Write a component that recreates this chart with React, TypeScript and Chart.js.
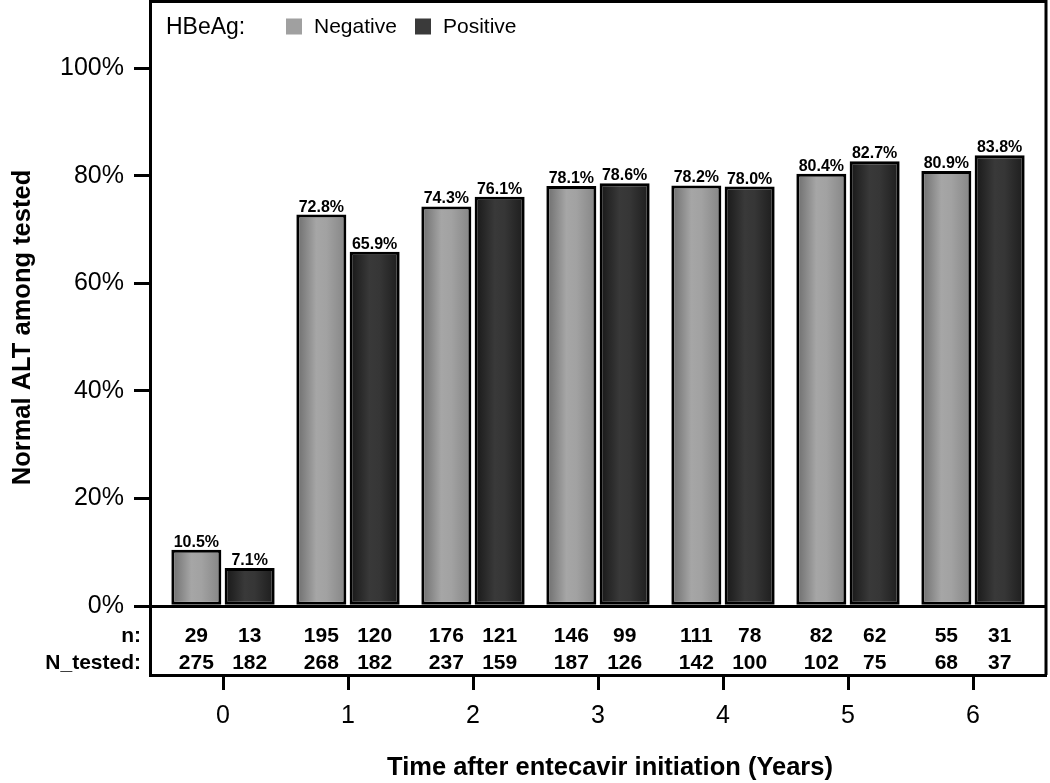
import React, { useEffect, useRef } from "react";
import { Chart, registerables } from "chart.js";

Chart.register(...registerables);

const YEARS = [0, 1, 2, 3, 4, 5, 6];
const SERIES_LABELS = ["Negative", "Positive"];
const NEG_PCT = [10.5, 72.8, 74.3, 78.1, 78.2, 80.4, 80.9];
const POS_PCT = [7.1, 65.9, 76.1, 78.6, 78.0, 82.7, 83.8];
const NEG_N = [29, 195, 176, 146, 111, 82, 55];
const POS_N = [13, 120, 121, 99, 78, 62, 31];
const NEG_TESTED = [275, 268, 237, 187, 142, 102, 68];
const POS_TESTED = [182, 182, 159, 126, 100, 75, 37];
const ROW_LABELS = ["n:", "N_tested:"];
const LEGEND_TITLE = "HBeAg:";
const Y_TICKS = [0, 20, 40, 60, 80, 100];
const X_TITLE = "Time after entecavir initiation (Years)";
const Y_TITLE = "Normal ALT among tested";

const FONT = '"Liberation Sans", Arial, Helvetica, sans-serif';
const CAT_PCT = 0.853;
const BAR_PCT = 0.938;
const NEG_STOPS = ["#6c6c6c", "#a6a6a6", "#a2a2a2", "#858585"];
const POS_STOPS = ["#171717", "#393939", "#363636", "#1c1c1c"];
const LEGEND_COLORS = ["#a0a0a0", "#3a3a3a"];

function barFill(stops: string[]) {
  return (c: any) => {
    const chart = c.chart;
    const xs = chart.scales && chart.scales.x;
    if (!xs || c.type !== "data") return stops[1];
    const unit = xs.getPixelForValue(1) - xs.getPixelForValue(0);
    if (!isFinite(unit) || unit <= 0) return stops[1];
    const slot = (unit * CAT_PCT) / 2;
    const xv = YEARS[c.dataIndex];
    const center = xs.getPixelForValue(xv) + (c.datasetIndex === 0 ? -slot / 2 : slot / 2);
    const w = slot * BAR_PCT;
    const g = chart.ctx.createLinearGradient(center - w / 2, 0, center + w / 2, 0);
    g.addColorStop(0, stops[0]);
    g.addColorStop(0.4, stops[1]);
    g.addColorStop(0.6, stops[2]);
    g.addColorStop(1, stops[3]);
    return g;
  };
}

function zeroPadding(s: any) {
  s.paddingTop = 0;
  s.paddingBottom = 0;
  s.paddingLeft = 0;
  s.paddingRight = 0;
}

const annotatePlugin = {
  id: "annotate",
  afterDatasetsDraw(chart: any) {
    const { ctx, chartArea } = chart;
    const ys = chart.scales.y;
    const base = ys.getPixelForValue(0);
    const pct = [NEG_PCT, POS_PCT];
    const ns = [NEG_N, POS_N];
    const tested = [NEG_TESTED, POS_TESTED];
    ctx.save();
    ctx.fillStyle = "#000";
    ctx.textAlign = "center";
    ctx.textBaseline = "alphabetic";
    for (let d = 0; d < 2; d++) {
      const meta = chart.getDatasetMeta(d);
      meta.data.forEach((el: any, j: number) => {
        ctx.font = `bold 16px ${FONT}`;
        ctx.fillText(pct[d][j].toFixed(1) + "%", el.x, el.y - 3);
        ctx.font = `bold 21px ${FONT}`;
        ctx.fillText(String(ns[d][j]), el.x, base + 36);
        ctx.fillText(String(tested[d][j]), el.x, base + 63);
      });
    }
    ctx.textAlign = "right";
    ctx.font = `bold 21px ${FONT}`;
    ctx.fillText(ROW_LABELS[0], chartArea.left - 9, base + 36);
    ctx.fillText(ROW_LABELS[1], chartArea.left - 9, base + 63);
    ctx.restore();
  },
  afterDraw(chart: any) {
    const { ctx, chartArea } = chart;
    ctx.save();
    // frame top & right
    ctx.strokeStyle = "#000";
    ctx.lineWidth = 3;
    ctx.beginPath();
    ctx.moveTo(chartArea.left, chartArea.top);
    ctx.lineTo(chartArea.right, chartArea.top);
    ctx.lineTo(chartArea.right, chartArea.bottom);
    ctx.stroke();
    // legend
    const y = chartArea.top + 25;
    ctx.textBaseline = "middle";
    ctx.textAlign = "left";
    ctx.fillStyle = "#000";
    ctx.font = `23px ${FONT}`;
    ctx.fillText(LEGEND_TITLE, chartArea.left + 16, y + 1);
    ctx.font = `21px ${FONT}`;
    chart.data.datasets.forEach((ds: any, i: number) => {
      const x = chartArea.left + 136 + i * 129;
      ctx.fillStyle = LEGEND_COLORS[i];
      ctx.fillRect(x, y - 8, 16, 16);
      ctx.fillStyle = "#000";
      ctx.fillText(ds.label, x + 28, y + 1);
    });
    // axis titles
    ctx.font = `bold 25.5px ${FONT}`;
    ctx.textAlign = "center";
    ctx.textBaseline = "middle";
    ctx.fillText(X_TITLE, chartArea.left + 460, 768);
    ctx.translate(23, chartArea.top + 326);
    ctx.rotate(-Math.PI / 2);
    ctx.fillText(Y_TITLE, 0, 0);
    ctx.restore();
  },
};

export default function App() {
  const ref = useRef<HTMLCanvasElement | null>(null);

  useEffect(() => {
    if (!ref.current) return;
    const chart = new Chart(ref.current, {
      type: "bar",
      data: {
        datasets: [
          {
            label: SERIES_LABELS[0],
            data: YEARS.map((x, j) => ({ x, y: NEG_PCT[j] })),
            backgroundColor: barFill(NEG_STOPS),
            borderColor: "#000",
            borderWidth: 3,
            borderSkipped: false,
            categoryPercentage: CAT_PCT,
            barPercentage: BAR_PCT,
          },
          {
            label: SERIES_LABELS[1],
            data: YEARS.map((x, j) => ({ x, y: POS_PCT[j] })),
            backgroundColor: barFill(POS_STOPS),
            borderColor: "#000",
            borderWidth: 3,
            borderSkipped: false,
            categoryPercentage: CAT_PCT,
            barPercentage: BAR_PCT,
          },
        ],
      },
      options: {
        animation: false,
        responsive: false,
        layout: { padding: { top: 1.5, right: 4, left: 0, bottom: 0 } },
        plugins: {
          legend: { display: false },
          tooltip: { enabled: false },
        },
        scales: {
          x: {
            type: "linear",
            offset: false,
            min: -0.584,
            max: 6.584,
            afterFit: (s: any) => {
              s.height = 108;
              zeroPadding(s);
            },
            afterBuildTicks: (s: any) => {
              s.ticks = YEARS.map((v) => ({ value: v }));
            },
            ticks: {
              stepSize: 1,
              includeBounds: false,
              color: "#000",
              font: { family: FONT, size: 25 },
              padding: 11,
              maxRotation: 0,
            },
            grid: {
              offset: false,
              drawOnChartArea: false,
              tickLength: 15,
              tickWidth: 3,
              tickColor: "#000",
            },
            border: { display: true, color: "#000", width: 3 },
            title: { display: false },
          },
          y: {
            type: "linear",
            min: -12.8,
            max: 112.4,
            afterFit: (s: any) => {
              s.width = 150;
              zeroPadding(s);
            },
            afterBuildTicks: (s: any) => {
              s.ticks = Y_TICKS.map((v) => ({ value: v }));
            },
            ticks: {
              stepSize: 20,
              includeBounds: false,
              color: "#000",
              font: { family: FONT, size: 25 },
              padding: 10,
              callback: (v: any) => v + "%",
            },
            grid: {
              drawOnChartArea: true,
              color: (c: any) => (c.tick && c.tick.value === 0 ? "#000" : "rgba(0,0,0,0)"),
              lineWidth: 3,
              tickLength: 16,
              tickWidth: 3,
              tickColor: "#000",
            },
            border: { display: true, color: "#000", width: 3 },
            title: { display: false },
          },
        },
      },
      plugins: [annotatePlugin],
    });
    return () => chart.destroy();
  }, []);

  return (
    <div style={{ position: "absolute", left: 0, top: 0, width: 1050, height: 783, background: "#fff" }}>
      <canvas ref={ref} width={1050} height={783} style={{ display: "block" }} />
    </div>
  );
}
